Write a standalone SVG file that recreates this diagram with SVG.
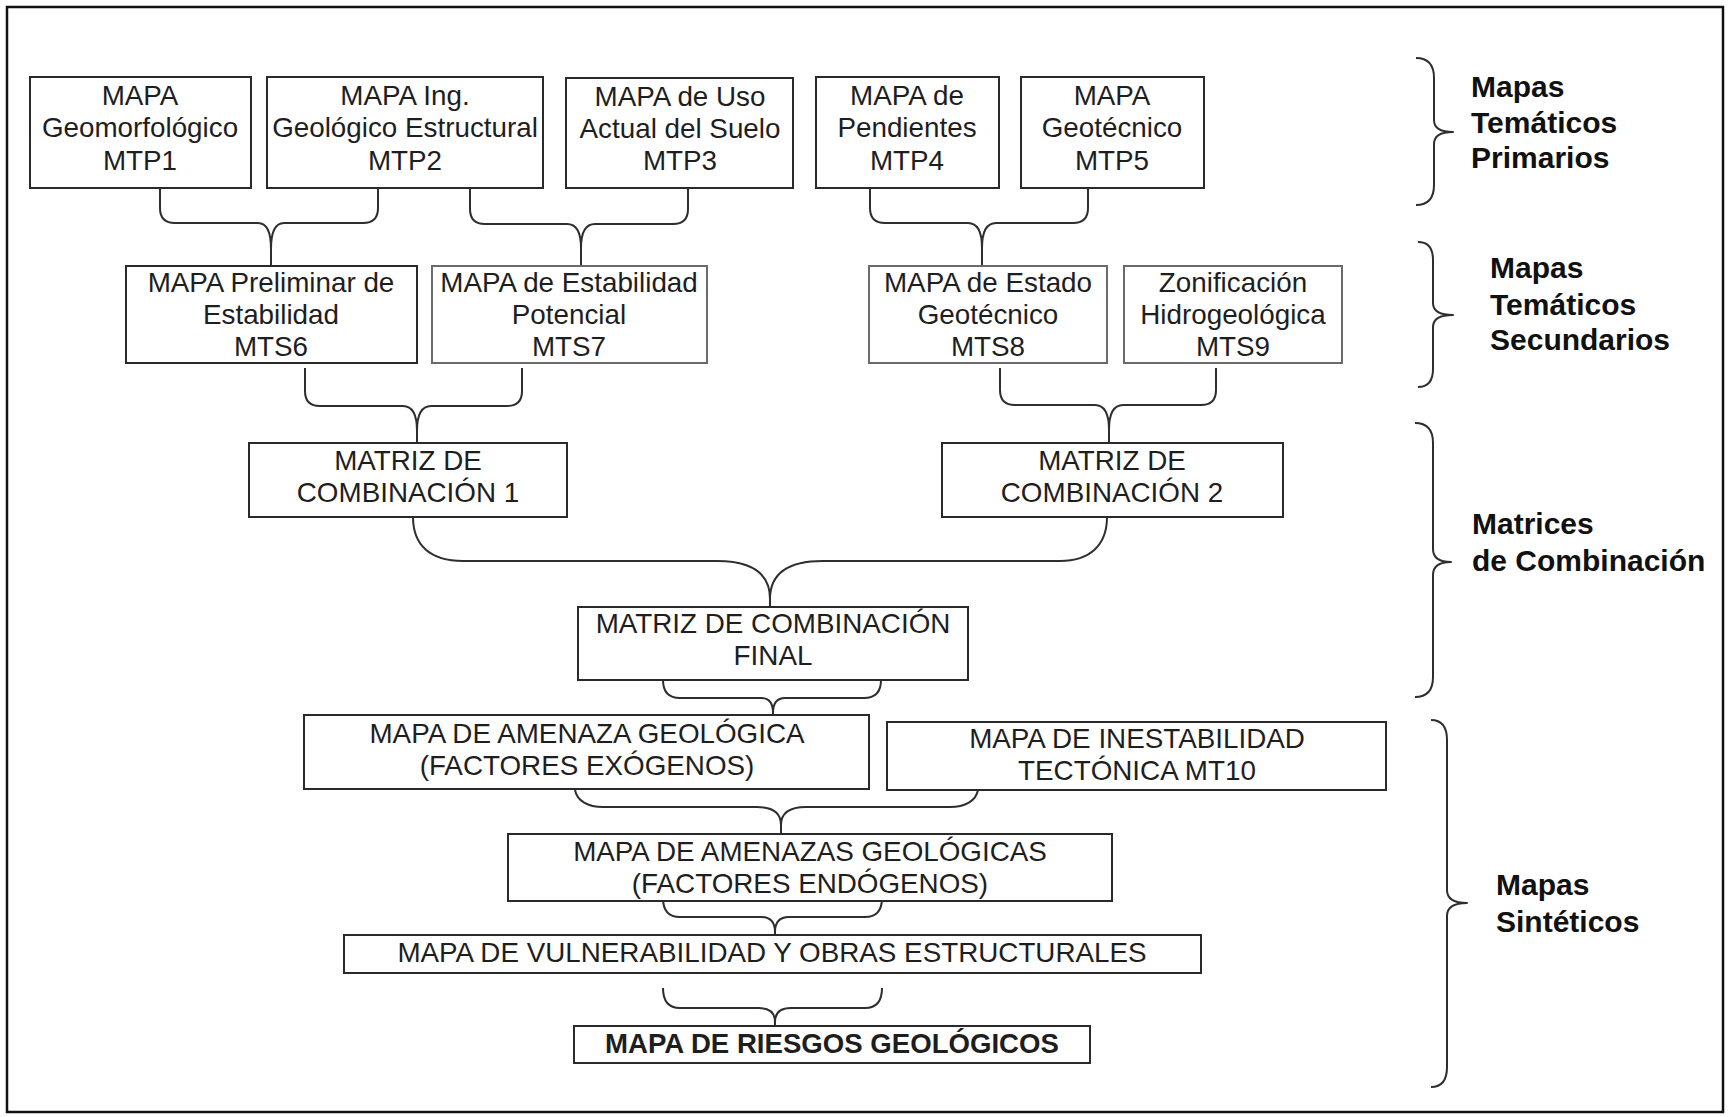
<svg xmlns="http://www.w3.org/2000/svg" width="1729" height="1117" viewBox="0 0 1729 1117">
<style>
.box{fill:#fff;stroke:#2a2a2a;stroke-width:2}
.lt{stroke:#6a6a6a}
.t{font-family:"Liberation Sans",Arial,sans-serif;font-size:27.8px;fill:#1e1e1e;text-anchor:middle}
.b{font-family:"Liberation Sans",Arial,sans-serif;font-size:30px;font-weight:bold;fill:#111}
.tb{font-weight:bold;font-size:27.6px}
.c{fill:none;stroke:#2e2e2e;stroke-width:2;stroke-linejoin:round}
</style>
<rect x="0" y="0" width="1729" height="1117" fill="#fff"/>
<rect x="7" y="7" width="1716" height="1105" fill="none" stroke="#111" stroke-width="2.5"/>

<g id="connectors">
<path class="c" d="M160 188 V208 Q160 223 175 223 H258 Q271 223 271 249 V265 M378 188 V208 Q378 223 363 223 H284 Q271 223 271 249"/>
<path class="c" d="M470 188 V209 Q470 224 485 224 H567 Q581 224 581 248 V265 M688 188 V209 Q688 224 673 224 H595 Q581 224 581 248"/>
<path class="c" d="M870 188 V208 Q870 223 885 223 H968 Q982 223 982 248 V265 M1088 188 V208 Q1088 223 1073 223 H996 Q982 223 982 248"/>
<path class="c" d="M305 368 V391 Q305 406 320 406 H403 Q417 406 417 431 V443 M522 368 V391 Q522 406 507 406 H431 Q417 406 417 431"/>
<path class="c" d="M1000 368 V390 Q1000 405 1015 405 H1095 Q1109 405 1109 430 V443 M1216 368 V390 Q1216 405 1201 405 H1123 Q1109 405 1109 430"/>
<path class="c" d="M413 517 C413 545 430 561 463 561 H717 Q770 561 770 599 V607 M1107 517 C1107 545 1090 561 1060 561 H823 Q770 561 770 599"/>
<path class="c" d="M663 680 C663 692 668 698 680 698 H761 Q773 698 773 713 V715 M881 680 C881 692 876 698 864 698 H785 Q773 698 773 713"/>
<path class="c" d="M575 790 C577 801 588 807 603 807 H757 Q781 807 781 825 V834 M978 790 C976 801 965 807 950 807 H806 Q781 807 781 825"/>
<path class="c" d="M663 898 C663 910 668 917 680 917 H761 Q775 917 775 932 V935 M882 898 C882 910 877 917 865 917 H789 Q775 917 775 932"/>
<path class="c" d="M663 988 C663 1000 668 1008 680 1008 H759 Q775 1008 775 1022 V1026 M882 988 C882 1000 877 1008 865 1008 H791 Q775 1008 775 1022"/>
</g>

<g id="sidebraces">
<path class="c" d="M1416 58 Q1434 58 1434 78 V120 Q1434 132 1453 132 Q1434 132 1434 144 V185 Q1434 205 1416 205"/>
<path class="c" d="M1418 242 Q1433 242 1433 260 V303 Q1433 315 1453 315 Q1433 315 1433 327 V369 Q1433 387 1418 387"/>
<path class="c" d="M1415 423 Q1433 423 1433 443 V549 Q1433 562 1451 562 Q1433 562 1433 575 V677 Q1433 697 1415 697"/>
<path class="c" d="M1431 720 Q1447 720 1447 740 V890 Q1447 903 1467 903 Q1447 903 1447 916 V1067 Q1447 1087 1431 1087"/>
</g>

<g id="MTP1"><rect class="box" x="30" y="77" width="221" height="111"/>
<text class="t" x="140" y="105">MAPA</text><text class="t" x="140" y="137">Geomorfológico</text><text class="t" x="140" y="170">MTP1</text></g>
<g id="MTP2"><rect class="box" x="267" y="77" width="276" height="111"/>
<text class="t" x="405" y="105">MAPA Ing.</text><text class="t" x="405" y="137">Geológico Estructural</text><text class="t" x="405" y="170">MTP2</text></g>
<g id="MTP3"><rect class="box" x="566" y="78" width="227" height="110"/>
<text class="t" x="680" y="106">MAPA de Uso</text><text class="t" x="680" y="138">Actual del Suelo</text><text class="t" x="680" y="170">MTP3</text></g>
<g id="MTP4"><rect class="box" x="816" y="77" width="183" height="111"/>
<text class="t" x="907" y="105">MAPA de</text><text class="t" x="907" y="137">Pendientes</text><text class="t" x="907" y="170">MTP4</text></g>
<g id="MTP5"><rect class="box" x="1021" y="77" width="183" height="111"/>
<text class="t" x="1112" y="105">MAPA</text><text class="t" x="1112" y="137">Geotécnico</text><text class="t" x="1112" y="170">MTP5</text></g>

<g id="MTS6"><rect class="box" x="126" y="266" width="291" height="97"/>
<text class="t" x="271" y="292">MAPA Preliminar de</text><text class="t" x="271" y="324">Estabilidad</text><text class="t" x="271" y="356">MTS6</text></g>
<g id="MTS7"><rect class="box lt" x="432" y="266" width="275" height="97"/>
<text class="t" x="569" y="292">MAPA de Estabilidad</text><text class="t" x="569" y="324">Potencial</text><text class="t" x="569" y="356">MTS7</text></g>
<g id="MTS8"><rect class="box lt" x="869" y="266" width="238" height="97"/>
<text class="t" x="988" y="292">MAPA de Estado</text><text class="t" x="988" y="324">Geotécnico</text><text class="t" x="988" y="356">MTS8</text></g>
<g id="MTS9"><rect class="box lt" x="1124" y="266" width="218" height="97"/>
<text class="t" x="1233" y="292">Zonificación</text><text class="t" x="1233" y="324">Hidrogeológica</text><text class="t" x="1233" y="356">MTS9</text></g>

<g id="MC1"><rect class="box" x="249" y="443" width="318" height="74"/>
<text class="t" x="408" y="470">MATRIZ DE</text><text class="t" x="408" y="502">COMBINACIÓN 1</text></g>
<g id="MC2"><rect class="box" x="942" y="443" width="341" height="74"/>
<text class="t" x="1112" y="470">MATRIZ DE</text><text class="t" x="1112" y="502">COMBINACIÓN 2</text></g>
<g id="MCF"><rect class="box" x="578" y="607" width="390" height="73"/>
<text class="t" x="773" y="633">MATRIZ DE COMBINACIÓN</text><text class="t" x="773" y="665">FINAL</text></g>

<g id="MAGE"><rect class="box" x="304" y="715" width="565" height="74"/>
<text class="t" x="587" y="743">MAPA DE AMENAZA GEOLÓGICA</text><text class="t" x="587" y="775">(FACTORES EXÓGENOS)</text></g>
<g id="MIT"><rect class="box" x="887" y="722" width="499" height="68"/>
<text class="t" x="1137" y="748">MAPA DE INESTABILIDAD</text><text class="t" x="1137" y="780">TECTÓNICA MT10</text></g>
<g id="MAE"><rect class="box" x="508" y="834" width="604" height="67"/>
<text class="t" x="810" y="861">MAPA DE AMENAZAS GEOLÓGICAS</text><text class="t" x="810" y="893">(FACTORES ENDÓGENOS)</text></g>
<g id="MV"><rect class="box" x="344" y="935" width="857" height="38"/>
<text class="t" x="772" y="962">MAPA DE VULNERABILIDAD Y OBRAS ESTRUCTURALES</text></g>
<g id="MR"><rect class="box" x="574" y="1026" width="516" height="37"/>
<text class="t tb" x="832" y="1053">MAPA DE RIESGOS GEOLÓGICOS</text></g>

<g id="labels">
<text class="b" x="1471" y="97">Mapas</text><text class="b" x="1471" y="133">Temáticos</text><text class="b" x="1471" y="168">Primarios</text>
<text class="b" x="1490" y="278">Mapas</text><text class="b" x="1490" y="315">Temáticos</text><text class="b" x="1490" y="350">Secundarios</text>
<text class="b" x="1472" y="534">Matrices</text><text class="b" x="1472" y="571">de Combinación</text>
<text class="b" x="1496" y="895">Mapas</text><text class="b" x="1496" y="932">Sintéticos</text>
</g>
</svg>
